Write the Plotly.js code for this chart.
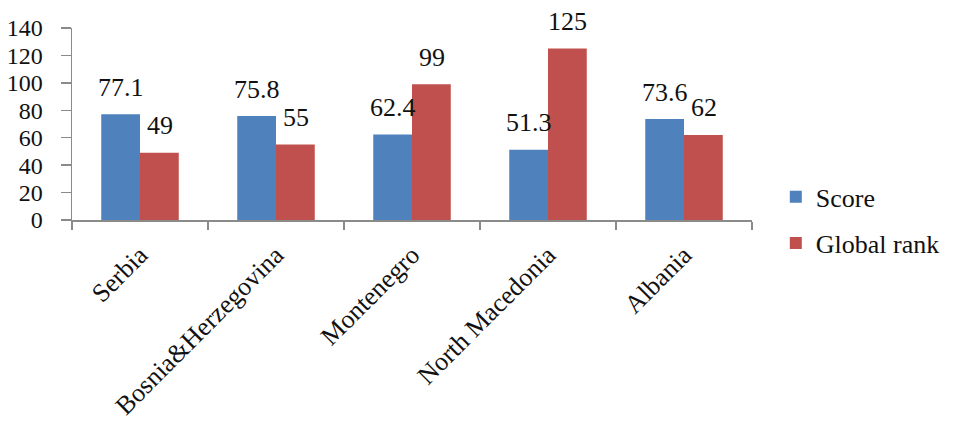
<!DOCTYPE html>
<html>
<head>
<meta charset="utf-8">
<script src="https://cdn.plot.ly/plotly-3.0.1.min.js"></script>
<style>
  html, body { margin: 0; padding: 0; background: #fff; }
  #chart { width: 957px; height: 422px; }
</style>
</head>
<body>
<div id="chart"></div>
<script>
// Countries and their score / global rank
const countries = ["Serbia", "Bosnia&Herzegovina", "Montenegro", "North Macedonia", "Albania"];
const scoreValues = [77.1, 75.8, 62.4, 51.3, 73.6];
const rankValues = [49, 55, 99, 125, 62];
const yTicks = [0, 20, 40, 60, 80, 100, 120, 140];

const FONT = "Liberation Serif, Times New Roman, serif";
const BLUE = "#4F81BD";
const RED = "#C0504D";
const AXIS = "#8a8a8a";

const traces = [
  { type: "bar", name: "Score", x: countries, y: scoreValues,
    marker: { color: BLUE }, legend: "legend", hoverinfo: "skip" },
  { type: "bar", name: "Global rank", x: countries, y: rankValues,
    marker: { color: RED }, legend: "legend2", hoverinfo: "skip" }
];

// Value labels above each bar, offset to sit over its bar in the group
const annotations = [];
countries.forEach((c, i) => {
  annotations.push({ x: c, y: scoreValues[i], text: String(scoreValues[i]),
    xref: "x", yref: "y", showarrow: false, xshift: -19.5, yshift: 27,
    yanchor: "middle", font: { family: FONT, size: 26, color: "#111" } });
  annotations.push({ x: c, y: rankValues[i], text: String(rankValues[i]),
    xref: "x", yref: "y", showarrow: false, xshift: 19.5, yshift: 27,
    yanchor: "middle", font: { family: FONT, size: 26, color: "#111" } });
});

const legendStyle = (y) => ({
  x: 1.035, y: y, xanchor: "left", yanchor: "middle",
  font: { family: FONT, size: 26, color: "#111" },
  bgcolor: "rgba(0,0,0,0)", borderwidth: 0
});

const layout = {
  width: 957, height: 422,
  margin: { l: 72, r: 203, t: 28, b: 202, pad: 0 },
  paper_bgcolor: "#fff", plot_bgcolor: "#fff",
  font: { family: FONT, size: 24, color: "#111" },
  barmode: "group", bargap: 0.43, bargroupgap: 0,
  showlegend: true,
  legend: legendStyle(0.12),
  legend2: legendStyle(-0.12),
  xaxis: {
    type: "category", tickangle: -45, tickson: "boundaries",
    ticks: "outside", ticklen: 8, tickcolor: AXIS, tickwidth: 1.5,
    ticklabelstandoff: 8,
    showline: true, linecolor: AXIS, linewidth: 1.5,
    showgrid: false, zeroline: false,
    tickfont: { family: FONT, size: 26, color: "#111" }
  },
  yaxis: {
    range: [0, 140], tickvals: yTicks, ticktext: yTicks.map(String),
    ticks: "outside", ticklen: 10, tickcolor: AXIS, tickwidth: 1.5,
    ticklabelstandoff: 13,
    showline: true, linecolor: AXIS, linewidth: 1.5,
    showgrid: false, zeroline: false,
    tickfont: { family: FONT, size: 24, color: "#111" }
  },
  annotations: annotations
};

Plotly.newPlot("chart", traces, layout, { displayModeBar: false, staticPlot: true });
</script>
</body>
</html>
